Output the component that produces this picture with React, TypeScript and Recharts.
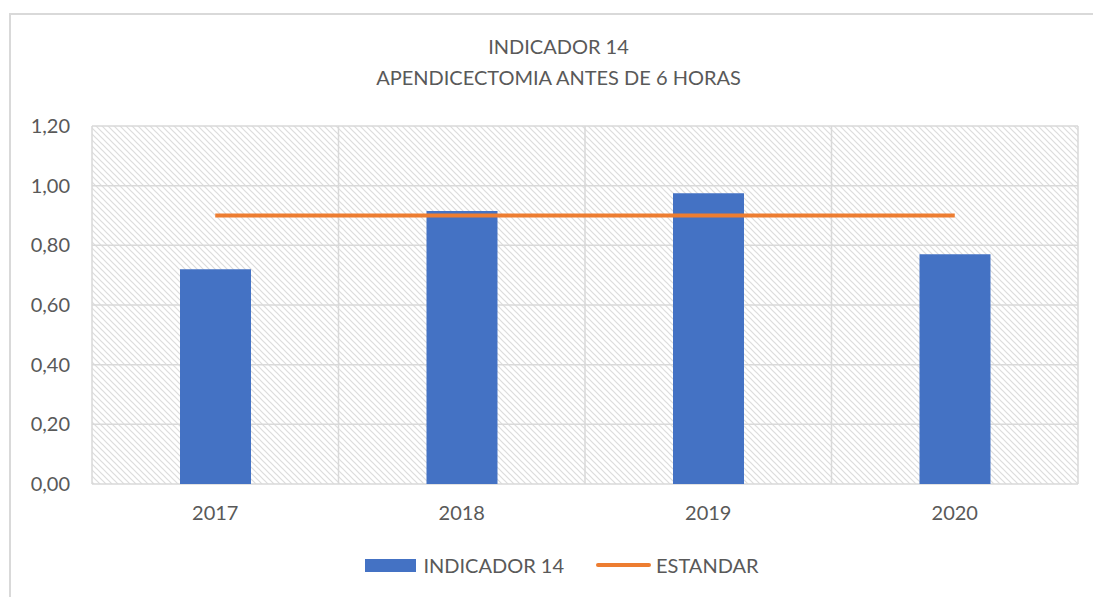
import React from 'react';
import { ComposedChart, Bar, Line, XAxis, YAxis, CartesianGrid, Legend } from 'recharts';

const years = ['2017', '2018', '2019', '2020'];
const indicador = [0.72, 0.915, 0.975, 0.77];
const estandar = [0.9, 0.9, 0.9, 0.9];
const yTicks = [0, 0.2, 0.4, 0.6, 0.8, 1.0, 1.2];
const boundaryTicks = [0, 1, 2, 3, 4];
const titleLines = ['INDICADOR 14', 'APENDICECTOMIA ANTES DE 6 HORAS'];
const seriesNames = ['INDICADOR 14', 'ESTANDAR'];

const data = years.map((y, i) => ({ year: y, ind: indicador[i], est: estandar[i] }));

const FONT = 'Lato, "Liberation Sans", sans-serif';
const TEXT = '#595959';
const GRID = '#d9d9d9';

const LegendContent = () => (
  <div style={{ display: 'flex', justifyContent: 'center', alignItems: 'center', fontFamily: FONT, fontSize: 20, color: TEXT, paddingLeft: 14 }}>
    <span style={{ display: 'inline-block', width: 51, height: 13, background: '#4472C4', marginRight: 7 }} />
    <span>{seriesNames[0]}</span>
    <span style={{ display: 'inline-block', width: 55, height: 4, borderRadius: 2, background: '#ED7D31', marginLeft: 32, marginRight: 5 }} />
    <span>{seriesNames[1]}</span>
  </div>
);

const vGen = (props: any) => {
  const o = props.offset;
  return boundaryTicks.map((i) => o.left + (i * o.width) / years.length);
};

export default function App() {
  return (
    <div style={{ position: 'absolute', left: 0, top: 0, width: 1093, height: 597, background: '#fff', overflow: 'hidden' }}>
      <div style={{ position: 'absolute', left: 9, top: 13, width: 1200, height: 700, borderTop: '2px solid #d9d9d9', borderLeft: '2px solid #d9d9d9' }} />
      <div style={{ position: 'absolute', left: 0, top: 31, width: 1117, textAlign: 'center', fontFamily: FONT, fontSize: 20, color: TEXT, lineHeight: '31px' }}>
        <div>{titleLines[0]}</div>
        <div>{titleLines[1]}</div>
      </div>
      <div style={{ position: 'absolute', left: 0, top: 0 }}>
        <ComposedChart width={1093} height={597} data={data} margin={{ top: 126, right: 15, left: 32, bottom: 20 }}>
          <defs>
            <pattern id="hatch" patternUnits="userSpaceOnUse" width="6" height="6">
              <rect width="6" height="6" fill="#ffffff" />
              <path d="M-1,-1 L7,7 M-1,5 L1,7 M5,-1 L7,1" stroke="#dcdcdc" strokeWidth="1.2" />
            </pattern>
          </defs>
          <CartesianGrid stroke={GRID} strokeWidth={1.5} fill="url(#hatch)" fillOpacity={1} verticalCoordinatesGenerator={vGen} />
          <XAxis xAxisId="b" type="number" domain={[0, 4]} ticks={boundaryTicks} tick={false} height={0}
            axisLine={{ stroke: GRID, strokeWidth: 1.5 }} tickLine={{ stroke: GRID, strokeWidth: 1.5 }} tickSize={7} allowDataOverflow />
          <XAxis xAxisId="a" dataKey="year" axisLine={false} tickLine={false} tickSize={0} tickMargin={22} height={40}
            tick={{ fill: TEXT, fontSize: 20, fontFamily: FONT }} />
          <YAxis domain={[0, 1.2]} ticks={yTicks} width={60} axisLine={false} tickLine={false} tickSize={0} tickMargin={22}
            tickFormatter={(v: number) => v.toFixed(2).replace('.', ',')}
            tick={{ fill: TEXT, fontSize: 20, fontFamily: FONT }} />
          <Legend verticalAlign="bottom" height={53} wrapperStyle={{ top: 553, bottom: 'auto' }} content={<LegendContent />} />
          <Bar xAxisId="a" dataKey="ind" name={seriesNames[0]} fill="#4472C4" barSize={71} isAnimationActive={false} />
          <Line xAxisId="a" dataKey="est" name={seriesNames[1]} stroke="#ED7D31" strokeWidth={4} dot={false} activeDot={false} isAnimationActive={false} />
        </ComposedChart>
      </div>
    </div>
  );
}
